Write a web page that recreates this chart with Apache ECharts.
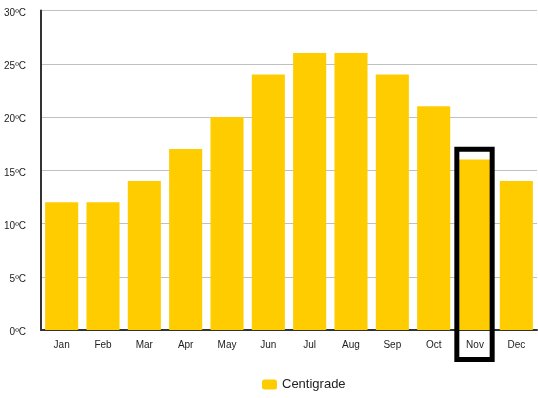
<!DOCTYPE html>
<html>
<head>
<meta charset="utf-8">
<script src="https://cdn.jsdelivr.net/npm/echarts@6/dist/echarts.min.js"></script>
<style>
  html, body { margin: 0; padding: 0; background: #fff; }
  #chart { width: 538px; height: 398px; }
</style>
</head>
<body>
<div id="chart"></div>
<script>
const months = ['Jan', 'Feb', 'Mar', 'Apr', 'May', 'Jun', 'Jul', 'Aug', 'Sep', 'Oct', 'Nov', 'Dec']
const centigrade = [12, 12, 14, 17, 20, 24, 26, 26, 24, 21, 16, 14]
const highlightMonth = 'Nov'
const boxTopValue = 17.2

const chart = echarts.init(document.getElementById('chart'))

const option = {
  animation: false,
  grid: { left: 41, right: 1, top: 10.5, bottom: 68 },
  legend: {
    data: ['Centigrade'],
    left: 257,
    top: 373,
    itemWidth: 15,
    itemHeight: 10,
    itemGap: 6,
    textStyle: { color: '#222', fontSize: 13, fontFamily: 'Liberation Sans, Arial' }
  },
  xAxis: {
    type: 'category',
    data: months,
    axisLine: { lineStyle: { color: '#333', width: 2 } },
    axisTick: { length: 8, lineStyle: { color: '#c8c8c8' } },
    axisLabel: { color: '#222', fontSize: 10, fontFamily: 'Liberation Sans, Arial', margin: 10 }
  },
  yAxis: {
    type: 'value',
    min: 0,
    max: 30,
    interval: 5,
    axisLine: { show: true, lineStyle: { color: '#333', width: 2 } },
    axisTick: { show: false },
    axisLabel: {
      margin: 15,
      formatter: '{t|{value}ºC}',
      rich: {
        t: { color: '#222', fontSize: 10, fontFamily: 'Liberation Sans, Arial', padding: [5, 0, 0, 0] }
      }
    },
    splitLine: { lineStyle: { color: '#c0c0c0' } }
  },
  series: [
    {
      name: 'Centigrade',
      type: 'bar',
      data: centigrade,
      barWidth: '80%',
      itemStyle: { color: '#ffcc00' }
    }
  ]
}

chart.setOption(option)

// highlight box around one month, placed from the axis scales
const cx = chart.convertToPixel({ xAxisIndex: 0 }, highlightMonth)
const band = chart.convertToPixel({ xAxisIndex: 0 }, months[1]) - chart.convertToPixel({ xAxisIndex: 0 }, months[0])
const yTop = chart.convertToPixel({ yAxisIndex: 0 }, boxTopValue)
const lw = 5
chart.setOption({
  graphic: [{
    type: 'rect',
    shape: { x: cx - band / 2 + lw / 2, y: yTop + lw / 2, width: band - 1 - lw, height: 362 - yTop - lw },
    style: { fill: 'none', stroke: '#000', lineWidth: lw },
    z: 100
  }]
})

window.addEventListener('resize', () => chart.resize())
</script>
</body>
</html>
